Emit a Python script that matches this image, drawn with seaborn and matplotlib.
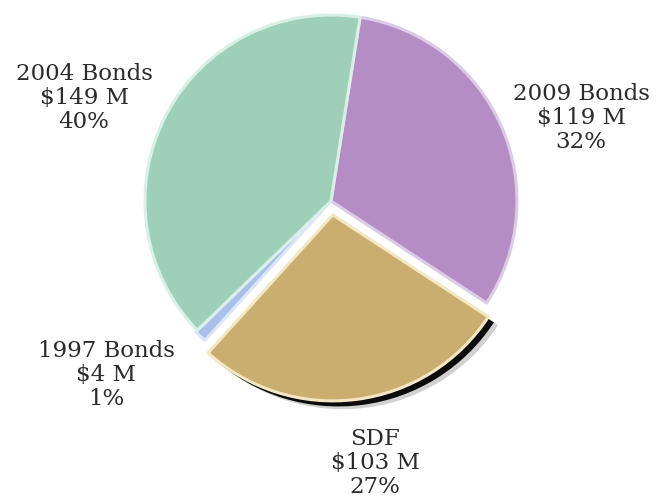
import matplotlib
matplotlib.use("Agg")
import matplotlib.pyplot as plt
import matplotlib.patheffects as pe
import seaborn as sns

# Funding sources (millions of dollars)
sources = ["2009 Bonds", "SDF", "1997 Bonds", "2004 Bonds"]
amounts = [119, 103, 4, 149]
shares = [32, 27, 1, 40]

fill_colors = ["#b48dc4", "#c9ae70", "#a8c0ea", "#9ecfb9"]
edge_colors = ["#dccbe6", "#f4e7c4", "#dbe6f7", "#d9f0e6"]

sns.set_theme(style="white")
plt.rcParams["font.family"] = ["DejaVu Serif"]

W, H = 659, 504
fig = plt.figure(figsize=(W / 100, H / 100), dpi=100)
ax = fig.add_axes([0, 0, 1, 1])

cx, cy, r = 331, H - 201, 186
# pie offsets are in data units here (pixels)
explode = [0, 14, 2, 0]

wedges, _ = ax.pie(
    amounts,
    colors=fill_colors,
    startangle=81,
    counterclock=False,
    center=(cx, cy),
    radius=r,
    explode=explode,
    wedgeprops=dict(linewidth=2.2),
    frame=True,
)
for w, ec in zip(wedges, edge_colors):
    w.set_edgecolor(ec)

# drop shadow under the pulled-out SDF slice
wedges[1].set_path_effects([
    pe.SimplePatchShadow(offset=(7, -6), shadow_rgbFace="#000000", alpha=0.18),
    pe.SimplePatchShadow(offset=(4, -4), shadow_rgbFace="#000000", alpha=0.95),
    pe.Normal(),
])
wedges[1].set_zorder(3)

ax.set_xlim(0, W)
ax.set_ylim(0, H)
ax.set_aspect("equal")
ax.set_axis_off()

label_xy = {
    "2004 Bonds": (84, H - 98),
    "2009 Bonds": (581, H - 118),
    "1997 Bonds": (106, H - 375),
    "SDF": (375, H - 463),
}
for name, amt, pct in zip(sources, amounts, shares):
    x, y = label_xy[name]
    ax.text(
        x, y, f"{name}\n${amt} M\n{pct}%",
        ha="center", va="center", multialignment="center",
        fontsize=16.5, color="#2b2b2b", linespacing=1.13,
    )

fig.savefig("out.png", dpi=100, facecolor="white")
